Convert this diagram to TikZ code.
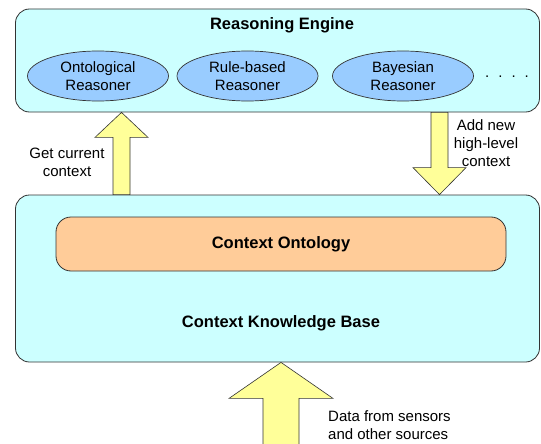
\documentclass[tikz,border=0pt]{standalone}
\usepackage{fontspec}
\setmainfont{Liberation Sans}
\usepackage{tikz}
\usetikzlibrary{shapes,arrows,positioning,calc}

\definecolor{boxcyan}{HTML}{CCFFFF}
\definecolor{reasonblue}{HTML}{99CCFF}
\definecolor{ontoorange}{HTML}{FFCC99}
\definecolor{flowyellow}{HTML}{FFFF99}

\tikzset{
	txt/.style={font=\fontsize{15}{18}\selectfont, align=center, inner sep=0pt},
	head/.style={txt, font=\fontsize{16.5}{19}\selectfont\bfseries},
	layer/.style={draw=black!80, line width=0.8pt, fill=boxcyan, rounded corners=14pt, inner sep=0pt},
	reasoner/.style={txt, ellipse, draw=black!80, line width=0.7pt, fill=reasonblue, minimum width=141pt, minimum height=50pt},
	fatarrow/.style args={#1/#2/#3}{draw=black!80, line width=0.6pt, fill=flowyellow,
		to path={([xshift=-#1]\tikztostart)
			-- ($([xshift=-#1]\tikztotarget)!#3!([xshift=-#1]\tikztostart)$)
			-- ($([xshift=-#2]\tikztotarget)!#3!([xshift=-#2]\tikztostart)$)
			-- (\tikztotarget)
			-- ($([xshift=#2]\tikztotarget)!#3!([xshift=#2]\tikztostart)$)
			-- ($([xshift=#1]\tikztotarget)!#3!([xshift=#1]\tikztostart)$)
			-- ([xshift=#1]\tikztostart) -- cycle}}
}

\begin{document}
\begin{tikzpicture}[x=1pt, y=-1pt]
	\useasboundingbox (0,0) rectangle (541,444);

	% reasoning engine
	\node[layer, minimum width=524pt, minimum height=103pt] (engine) at (277.5,60.5) {};
	\node[head] (enginetitle) at (282,25) {Reasoning Engine};
	\node[reasoner] (onto) at (98,76) {Ontological\\Reasoner};
	\node[reasoner] (rule) at (247.5,76) {Rule-based\\Reasoner};
	\node[reasoner] (bayes) at (403,76) {Bayesian\\Reasoner};
	\node[txt] (more) at (507,76.5) {.\hspace{9pt}.\hspace{9pt}.\hspace{9pt}.};

	% knowledge base
	\node[layer, minimum width=524pt, minimum height=167pt] (kb) at (277.5,278.5) {};
	\node[layer, fill=ontoorange, rounded corners=15pt, minimum width=450pt, minimum height=54pt, head] (ontology) at (281,244) {Context Ontology};
	\node[head] (kbtitle) at (281,323) {Context Knowledge Base};

	% flows
	\coordinate (getc) at (121.5,0);
	\coordinate (addc) at (439.5,0);
	\coordinate (feed) at (281,450);
	\draw[fatarrow=8.5pt/26.5pt/25pt] (kb.north -| getc) to (engine.south -| getc);
	\draw[fatarrow=8.5pt/26.5pt/27pt] (engine.south -| addc) to (kb.north -| addc);
	\draw[fatarrow=18pt/52pt/36pt] (feed) to (kb.south -| feed);

	\node[txt] (getlbl) at (67,162.5) {Get current\\context};
	\node[txt] (addlbl) at (486,143) {Add new\\high-level\\context};
	\node[txt, align=left, anchor=west] (feedlbl) at (328,425.5) {Data from sensors\\and other sources};
\end{tikzpicture}
\end{document}
